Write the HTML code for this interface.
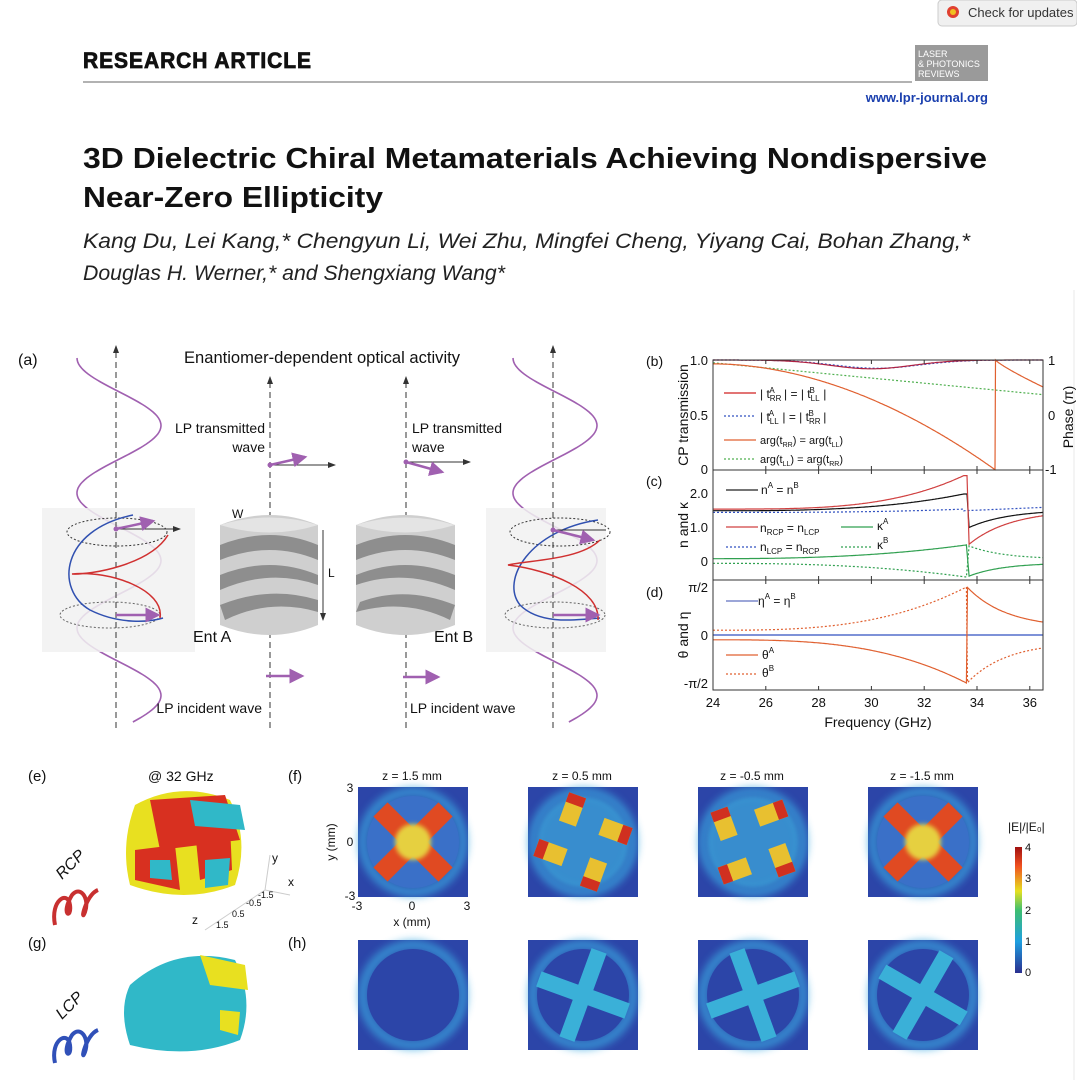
<!DOCTYPE html>
<html><head><meta charset="utf-8"><style>
html,body{margin:0;padding:0;background:#fff}
svg{display:block}
text{font-family:"Liberation Sans",Arial,sans-serif}
</style></head><body>
<svg id="s" width="1077" height="1080" viewBox="0 0 1077 1080" xmlns="http://www.w3.org/2000/svg">
<defs>
<filter id="bl" x="-20%" y="-20%" width="140%" height="140%"><feGaussianBlur stdDeviation="4"/></filter>
<filter id="bl2"><feGaussianBlur stdDeviation="2"/></filter>
<linearGradient id="cb" x1="0" y1="1" x2="0" y2="0">
<stop offset="0" stop-color="#2a2f8f"/><stop offset="0.25" stop-color="#1e9fe0"/><stop offset="0.5" stop-color="#3fbf6f"/><stop offset="0.65" stop-color="#e6e020"/><stop offset="0.85" stop-color="#f05020"/><stop offset="1" stop-color="#a01010"/>
</linearGradient>
<marker id="ah" markerWidth="8" markerHeight="8" refX="7" refY="4" orient="auto"><path d="M0,1 L8,4 L0,7 z" fill="#333"/></marker>
<marker id="ap" markerWidth="6" markerHeight="6" refX="5" refY="3" orient="auto"><path d="M0,0 L6,3 L0,6 z" fill="#a060b0"/></marker>
</defs>

<!-- header -->
<rect x="938" y="0" width="139" height="26" rx="4" fill="#f0f0f0" stroke="#ccc"/>
<circle cx="953" cy="12" r="6" fill="#e04030"/><circle cx="953" cy="12" r="3" fill="#f0c020"/>
<text x="968" y="17" font-size="13" fill="#333">Check for updates</text>
<text x="83" y="68" font-size="22" font-weight="bold" fill="#111" stroke="#111" stroke-width="0.8" textLength="229" lengthAdjust="spacingAndGlyphs" style="letter-spacing:1px">RESEARCH ARTICLE</text>
<line x1="83" y1="82" x2="912" y2="82" stroke="#999" stroke-width="1.5"/>
<rect x="915" y="45" width="73" height="36" fill="#9a9a9a"/>
<text x="918" y="57" font-size="9" fill="#fff">LASER</text>
<text x="918" y="67" font-size="9" fill="#fff">&amp; PHOTONICS</text>
<text x="918" y="77" font-size="9" fill="#fff">REVIEWS</text>
<text x="988" y="102" font-size="13" font-weight="bold" fill="#1a3fae" text-anchor="end">www.lpr-journal.org</text>
<text x="83" y="168" font-size="29" font-weight="bold" fill="#111" textLength="904" lengthAdjust="spacingAndGlyphs">3D Dielectric Chiral Metamaterials Achieving Nondispersive</text>
<text x="83" y="207" font-size="29" font-weight="bold" fill="#111" textLength="300" lengthAdjust="spacingAndGlyphs">Near-Zero Ellipticity</text>
<text x="83" y="248" font-size="21" font-style="italic" fill="#222" textLength="887" lengthAdjust="spacingAndGlyphs">Kang Du, Lei Kang,* Chengyun Li, Wei Zhu, Mingfei Cheng, Yiyang Cai, Bohan Zhang,*</text>
<text x="83" y="280" font-size="21" font-style="italic" fill="#222" textLength="422" lengthAdjust="spacingAndGlyphs">Douglas H. Werner,* and Shengxiang Wang*</text>
<line x1="1074" y1="290" x2="1074" y2="1080" stroke="#e8e8e8"/>

<!-- panel a -->
<text x="18" y="365" font-size="16" fill="#111">(a)</text>
<text x="184" y="363" font-size="17" fill="#111" textLength="276" lengthAdjust="spacingAndGlyphs">Enantiomer-dependent optical activity</text>
<path id="pw1" fill="none" stroke="#a060b0" stroke-width="1.6"/>
<path id="pw2" fill="none" stroke="#a060b0" stroke-width="1.6"/>
<rect x="42" y="508" width="153" height="144" fill="#f1f1f1" opacity="0.85"/>
<rect x="486" y="508" width="120" height="144" fill="#f1f1f1" opacity="0.85"/>
<g stroke="#333" stroke-width="1" stroke-dasharray="6,4" fill="none">
<line x1="116" y1="728" x2="116" y2="346" marker-end="url(#ah)"/>
<line x1="270" y1="728" x2="270" y2="377" marker-end="url(#ah)"/>
<line x1="406" y1="728" x2="406" y2="377" marker-end="url(#ah)"/>
<line x1="553" y1="728" x2="553" y2="346" marker-end="url(#ah)"/>
</g>
<g fill="none" stroke="#333" stroke-dasharray="2,2">
<ellipse cx="117" cy="532" rx="50" ry="14"/><ellipse cx="110" cy="615" rx="50" ry="13" stroke="#666"/>
<ellipse cx="560" cy="532" rx="50" ry="14"/><ellipse cx="555" cy="615" rx="50" ry="13" stroke="#666"/>
</g>
<path d="M133,515 C60,530 55,590 90,610 C120,625 150,622 163,618" fill="none" stroke="#3050b0" stroke-width="1.5"/>
<path d="M168,535 C150,565 90,575 72,574 C110,570 165,590 160,618" fill="none" stroke="#d03030" stroke-width="1.5"/>
<path d="M598,520 C530,530 500,580 520,605 C540,625 575,620 600,618" fill="none" stroke="#3050b0" stroke-width="1.5"/>
<path d="M600,540 C580,560 530,560 508,565 C550,570 600,590 598,620" fill="none" stroke="#d03030" stroke-width="1.5"/>
<g stroke="#333" fill="none"><line x1="116" y1="529" x2="180" y2="529" marker-end="url(#ah)"/><line x1="270" y1="465" x2="335" y2="465" marker-end="url(#ah)"/><line x1="406" y1="462" x2="470" y2="462" marker-end="url(#ah)"/><line x1="553" y1="530" x2="606" y2="530"/></g>
<g stroke="#a060b0" stroke-width="2.5" fill="none">
<line x1="116" y1="529" x2="153" y2="521" marker-end="url(#ap)"/><line x1="270" y1="465" x2="305" y2="457" marker-end="url(#ap)"/>
<line x1="406" y1="462" x2="442" y2="472" marker-end="url(#ap)"/><line x1="553" y1="530" x2="593" y2="540" marker-end="url(#ap)"/>
<line x1="116" y1="615" x2="158" y2="615" marker-end="url(#ap)"/><line x1="553" y1="615" x2="598" y2="615" marker-end="url(#ap)"/>
<line x1="266" y1="676" x2="302" y2="676" marker-end="url(#ap)"/><line x1="403" y1="677" x2="438" y2="677" marker-end="url(#ap)"/>
</g>
<g fill="#a060b0"><circle cx="116" cy="529" r="2.5"/><circle cx="270" cy="465" r="2.5"/><circle cx="406" cy="462" r="2.5"/><circle cx="553" cy="530" r="2.5"/></g>
<g font-size="14" fill="#111">
<text x="265" y="433" text-anchor="end">LP transmitted</text><text x="265" y="452" text-anchor="end">wave</text>
<text x="412" y="433">LP transmitted</text><text x="412" y="452">wave</text>
<text x="262" y="713" text-anchor="end">LP incident wave</text><text x="410" y="713">LP incident wave</text>
<text x="193" y="642" font-size="16">Ent A</text><text x="434" y="642" font-size="16">Ent B</text>
<text x="232" y="518" font-size="12">W</text><text x="286" y="530" font-size="12">R</text><text x="328" y="577" font-size="12">L</text>
</g>
<line x1="323" y1="530" x2="323" y2="620" stroke="#333" marker-end="url(#ah)"/>
<g>
<path d="M220,525 Q270,505 318,525 L318,625 Q270,645 220,625 z" fill="#cfcfcf"/>
<path d="M220,545 Q270,525 318,545 L318,560 Q270,540 220,560z M220,575 Q270,555 318,575 L318,585 Q270,568 220,590z M220,605 Q270,585 318,600 L318,612 Q270,598 225,620z" fill="#8e8e8e"/>
<path d="M220,525 Q270,510 318,525 Q270,540 220,525z" fill="#e4e4e4"/>
<path d="M356,525 Q405,505 455,525 L455,625 Q405,645 356,625 z" fill="#cfcfcf"/>
<path d="M356,545 Q405,525 455,545 L455,560 Q405,540 356,560z M356,575 Q405,555 455,575 L455,590 Q405,568 356,585z M360,602 Q405,585 455,605 L450,620 Q405,598 356,612z" fill="#8e8e8e"/>
<path d="M356,525 Q405,510 455,525 Q405,540 356,525z" fill="#e4e4e4"/>
</g>

<!-- panels b,c,d -->
<g id="plots"></g>
<g font-size="14" fill="#111">
<text x="646" y="366">(b)</text><text x="646" y="486">(c)</text><text x="646" y="597">(d)</text>
</g>
<g font-size="13" fill="#111" text-anchor="end">
<text x="708" y="365">1.0</text><text x="708" y="420">0.5</text><text x="708" y="474">0</text>
<text x="708" y="498">2.0</text><text x="708" y="532">1.0</text><text x="708" y="566">0</text>
<text x="708" y="592">π/2</text><text x="708" y="640">0</text><text x="708" y="688">-π/2</text>
</g>
<g font-size="13" fill="#111"><text x="1048" y="365">1</text><text x="1048" y="420">0</text><text x="1045" y="474">-1</text></g>
<g font-size="14" fill="#111" text-anchor="middle">
<text transform="translate(688,415) rotate(-90)">CP transmission</text>
<text transform="translate(688,525) rotate(-90)">n and κ</text>
<text transform="translate(688,635) rotate(-90)">θ and η</text>
<text transform="translate(1073,417) rotate(-90)">Phase (π)</text>
<text x="878" y="727">Frequency (GHz)</text>
</g>
<g font-size="13" fill="#111" text-anchor="middle" id="xt"></g>
<g font-size="12" fill="#111">
<text x="760" y="398">| t<tspan font-size="8" dy="3">RR</tspan><tspan font-size="8" dy="-8" dx="-12">A</tspan><tspan dy="5" dx="6"> | = | t</tspan><tspan font-size="8" dy="3">LL</tspan><tspan font-size="8" dy="-8" dx="-10">B</tspan><tspan dy="5" dx="5"> |</tspan></text>
<text x="760" y="421">| t<tspan font-size="8" dy="3">LL</tspan><tspan font-size="8" dy="-8" dx="-10">A</tspan><tspan dy="5" dx="5"> | = | t</tspan><tspan font-size="8" dy="3">RR</tspan><tspan font-size="8" dy="-8" dx="-12">B</tspan><tspan dy="5" dx="6"> |</tspan></text>
<text x="760" y="444" font-size="11">arg(t<tspan font-size="7" dy="3">RR</tspan><tspan dy="-3">) = arg(t</tspan><tspan font-size="7" dy="3">LL</tspan><tspan dy="-3">)</tspan></text>
<text x="760" y="463" font-size="11">arg(t<tspan font-size="7" dy="3">LL</tspan><tspan dy="-3">) = arg(t</tspan><tspan font-size="7" dy="3">RR</tspan><tspan dy="-3">)</tspan></text>
<text x="761" y="494">n<tspan font-size="8" dy="-6">A</tspan><tspan dy="6"> = n</tspan><tspan font-size="8" dy="-6">B</tspan></text>
<text x="760" y="532">n<tspan font-size="8" dy="3">RCP</tspan><tspan dy="-3"> = n</tspan><tspan font-size="8" dy="3">LCP</tspan></text>
<text x="760" y="551">n<tspan font-size="8" dy="3">LCP</tspan><tspan dy="-3"> = n</tspan><tspan font-size="8" dy="3">RCP</tspan></text>
<text x="877" y="530">κ<tspan font-size="8" dy="-6">A</tspan></text>
<text x="877" y="549">κ<tspan font-size="8" dy="-6">B</tspan></text>
<text x="758" y="605">η<tspan font-size="8" dy="-6">A</tspan><tspan dy="6"> = η</tspan><tspan font-size="8" dy="-6">B</tspan></text>
<text x="762" y="659">θ<tspan font-size="8" dy="-6">A</tspan></text>
<text x="762" y="677">θ<tspan font-size="8" dy="-6">B</tspan></text>
</g>
<g stroke-width="1.3" fill="none">
<line x1="724" y1="393" x2="756" y2="393" stroke="#d02020"/>
<line x1="724" y1="416" x2="756" y2="416" stroke="#3050c0" stroke-dasharray="2,2"/>
<line x1="724" y1="440" x2="756" y2="440" stroke="#e06030"/>
<line x1="724" y1="459" x2="756" y2="459" stroke="#50b050" stroke-dasharray="2,2"/>
<line x1="726" y1="490" x2="758" y2="490" stroke="#222"/>
<line x1="726" y1="527" x2="758" y2="527" stroke="#d04040"/>
<line x1="726" y1="547" x2="758" y2="547" stroke="#3050c0" stroke-dasharray="2,2"/>
<line x1="841" y1="527" x2="873" y2="527" stroke="#30a050"/>
<line x1="841" y1="547" x2="873" y2="547" stroke="#30a050" stroke-dasharray="2,2"/>
<line x1="726" y1="601" x2="758" y2="601" stroke="#6070c0"/>
<line x1="726" y1="655" x2="758" y2="655" stroke="#e06030"/>
<line x1="726" y1="674" x2="758" y2="674" stroke="#e06030" stroke-dasharray="2,2"/>
</g>

<!-- panels e-h -->
<g font-size="15" fill="#111">
<text x="28" y="781">(e)</text><text x="28" y="948">(g)</text><text x="288" y="781">(f)</text><text x="288" y="948">(h)</text>
<text x="148" y="781" font-size="14">@ 32 GHz</text>
</g>
<g font-size="12" fill="#111" text-anchor="middle">
<text x="412" y="780">z = 1.5 mm</text><text x="582" y="780">z = 0.5 mm</text><text x="752" y="780">z = -0.5 mm</text><text x="922" y="780">z = -1.5 mm</text>
<text x="350" y="792">3</text><text x="350" y="846">0</text><text x="350" y="900">-3</text>
<text x="357" y="910">-3</text><text x="412" y="910">0</text><text x="467" y="910">3</text>
<text x="412" y="926">x (mm)</text>
<text transform="translate(335,842) rotate(-90)">y (mm)</text>
</g>
<g id="maps"></g>
<rect x="1015" y="847" width="7" height="126" fill="url(#cb)"/>
<g font-size="11" fill="#111"><text x="1025" y="851">4</text><text x="1025" y="882">3</text><text x="1025" y="914">2</text><text x="1025" y="945">1</text><text x="1025" y="976">0</text>
<text x="1008" y="831" font-size="12">|E|/|E₀|</text></g>
<g>
<path d="M135,805 Q180,780 230,800 Q250,840 235,885 Q185,905 130,885 Q120,845 135,805z" fill="#e8e020"/>
<path d="M150,800 L225,795 L240,840 L160,850z M135,850 L175,845 L180,890 L135,880z M195,830 L230,825 L232,870 L200,880z" fill="#d83020"/>
<path d="M190,800 L240,805 L245,830 L195,826z M150,860 L170,860 L172,880 L150,878z M205,860 L230,858 L228,885 L205,888z" fill="#30b8c8"/>
<path d="M130,985 Q175,945 235,960 Q255,1000 240,1040 Q190,1060 130,1045 Q118,1010 130,985z" fill="#30b8c8"/>
<path d="M200,955 L245,965 L248,990 L210,985z M220,1010 L240,1012 L238,1035 L220,1030z" fill="#e8e020"/>
</g>
<g stroke="#ccc" fill="none"><line x1="265" y1="890" x2="270" y2="855"/><line x1="265" y1="890" x2="290" y2="895"/><line x1="265" y1="890" x2="205" y2="930"/></g>
<g font-size="12" fill="#111"><text x="272" y="862">y</text><text x="288" y="886">x</text><text x="192" y="924">z</text><text x="216" y="928" font-size="9">1.5</text><text x="232" y="917" font-size="9">0.5</text><text x="246" y="906" font-size="9">-0.5</text><text x="258" y="898" font-size="9">-1.5</text></g>
<text transform="translate(62,880) rotate(-45)" font-size="16" font-style="italic" fill="#111">RCP</text>
<text transform="translate(62,1020) rotate(-45)" font-size="16" font-style="italic" fill="#111">LCP</text>
<path d="M55,925 C50,900 68,890 70,905 C72,920 60,915 72,895 C80,885 90,898 85,912 C80,925 85,895 98,890" fill="none" stroke="#c83030" stroke-width="4"/>
<path d="M55,1063 C50,1040 68,1030 70,1045 C72,1060 60,1055 72,1035 C80,1025 90,1038 85,1052 C80,1065 85,1035 98,1030" fill="none" stroke="#3050b8" stroke-width="4"/>
</svg>
<script>
var NS="http://www.w3.org/2000/svg";
function el(p,t,a){var e=document.createElementNS(NS,t);for(var k in a)e.setAttribute(k,a[k]);p.appendChild(e);return e;}
var X=function(f){return 713+(f-24)*26.4;};
var G=document.getElementById("plots");
function path(fn,yf,f0,f1,st,dash){var d="";for(var f=f0;f<=f1+1e-9;f+=0.05){var v=fn(f);d+=(d?"L":"M")+X(f).toFixed(1)+","+yf(v).toFixed(1);}
var a={d:d,fill:"none",stroke:st,"stroke-width":1.2};if(dash)a["stroke-dasharray"]=dash;el(G,"path",a);}
function seg(parts,yf,st,dash){var d="";parts.forEach(function(p){for(var f=p[0];f<=p[1]+1e-9;f+=0.04){d+=(d?"L":"M")+X(f).toFixed(1)+","+yf(p[2](f)).toFixed(1);}});
var a={d:d,fill:"none",stroke:st,"stroke-width":1.2};if(dash)a["stroke-dasharray"]=dash;el(G,"path",a);}
var yL=function(v){return 470-110*v;},yR=function(p){return 415-55*p;},yC=function(v){return 561-33.5*v;},yD=function(t){return 635-48*t;};
function sat(f,f0,f1,tau){return (1-Math.exp(-(f-f0)/tau))/(1-Math.exp(-(f1-f0)/tau));}
path(function(f){return 1-0.075*Math.exp(-Math.pow((f-30.2)/2.3,2));},yL,24,36.5,"#3050c0","2,2");
path(function(f){return 1-0.08*Math.exp(-Math.pow((f-30)/2.2,2));},yL,24,36.5,"#b02040");
path(function(f){return 0.95-0.58*(f-24)/12.5;},yR,24,36.5,"#50b050","2,2");
seg([[24,34.7,function(f){return 0.93-1.93*Math.pow((f-24)/10.7,1.9);}],[34.7,36.5,function(f){return 1-0.49*Math.pow((f-34.7)/1.8,0.85);}]],yR,"#e06030");
function sh(a,b,p){return function(f){return a+b*Math.pow((f-24)/9.5,p);};}
seg([[24,33.5,sh(1.45,0.1,3)],[33.5,36.5,function(f){return 1.5+0.1*(f-33.5)/3;}]],yC,"#3050c0","2,2");
seg([[24,33.5,sh(1.5,0.5,3)],[33.5,33.62,function(){return 2.0;}],[33.7,36.5,function(f){return 1.0+0.45*sat(f,33.7,36.5,1.5);}]],yC,"#111");
seg([[24,33.5,sh(1.55,1.0,3.5)],[33.5,33.62,function(){return 2.55;}],[33.7,36.5,function(f){return 0.5+0.85*sat(f,33.7,36.5,1.6);}]],yC,"#d04040");
var kA=function(f){return f<33.65?0.07+0.41*Math.pow((f-24)/9.6,2.5):-0.45+0.35*sat(f,33.7,36.5,1.3);};
seg([[24,33.62,kA],[33.7,36.5,kA]],yC,"#30a050");
seg([[24,33.62,function(f){return -kA(f);}],[33.7,36.5,function(f){return -kA(f);}]],yC,"#30a050","2,2");
el(G,"line",{x1:713,y1:635,x2:1043,y2:635,stroke:"#3050c0","stroke-width":1.3});
var tA=function(f){return f<33.62?-0.1-0.9*Math.pow((f-24)/9.6,3):1-0.73*sat(f,33.62,36.5,1.5);};
seg([[24,33.6,tA],[33.64,36.5,tA]],yD,"#e06030");
seg([[24,33.6,function(f){return -tA(f);}],[33.64,36.5,function(f){return -tA(f);}]],yD,"#e06030","2,2");
[[360,470],[470,580],[580,690]].forEach(function(r){el(G,"rect",{x:713,y:r[0],width:330,height:r[1]-r[0],fill:"none",stroke:"#333","stroke-width":1});
for(var f=24;f<=36;f+=2){el(G,"line",{x1:X(f),y1:r[0],x2:X(f),y2:r[0]+4,stroke:"#333"});el(G,"line",{x1:X(f),y1:r[1],x2:X(f),y2:r[1]-4,stroke:"#333"});}});
var xt=document.getElementById("xt");for(var f=24;f<=36;f+=2){var t=el(xt,"text",{x:X(f),y:707});t.textContent=f;}
function wave(id,cx,amp){var d="";for(var y=358;y<=722;y+=2){var x=cx-amp*Math.cos((y-358)/135*Math.PI*2);d+=(d?"L":"M")+x.toFixed(1)+","+y;}document.getElementById(id).setAttribute("d",d);}
wave("pw1",119,42);wave("pw2",555,42);
var M=document.getElementById("maps");
var cols=[358,528,698,868];
function mapbox(x,y,type,k,ang){var g=el(M,"g",{});
el(g,"rect",{x:x,y:y,width:110,height:110,fill:"#2c45a8"});
var cx=x+55,cy=y+55;
el(g,"circle",{cx:cx,cy:cy,r:50,fill:"none",stroke:"#3aa8e0","stroke-width":10,opacity:0.7,filter:"url(#bl)"});
if(type=="f"){
 if(k==0||k==3){el(g,"circle",{cx:cx,cy:cy,r:46,fill:"#3a70c8"});
  var gg=el(g,"g",{transform:"rotate("+ang+" "+cx+" "+cy+")"});
  el(gg,"rect",{x:cx-46,y:cy-10,width:92,height:20,fill:"#e04a22"});el(gg,"rect",{x:cx-10,y:cy-46,width:20,height:92,fill:"#e04a22"});
  el(gg,"circle",{cx:cx,cy:cy,r:18,fill:"#e6d040",filter:"url(#bl2)"});
 } else {el(g,"circle",{cx:cx,cy:cy,r:46,fill:"#3aa0d8",opacity:0.8,filter:"url(#bl2)"});
  var gg=el(g,"g",{transform:"rotate("+ang+" "+cx+" "+cy+")"});
  for(var i=0;i<4;i++){var g2=el(gg,"g",{transform:"rotate("+(i*90)+" "+cx+" "+cy+")"});el(g2,"rect",{x:cx+12,y:cy-30,width:30,height:18,fill:"#e8c030"});el(g2,"rect",{x:cx+32,y:cy-30,width:10,height:18,fill:"#d03020"});}
 }
}else{
 el(g,"circle",{cx:cx,cy:cy,r:46,fill:"#2c45a8"});
 if(k>0){var gg=el(g,"g",{transform:"rotate("+ang+" "+cx+" "+cy+")"});
  el(gg,"rect",{x:cx-47,y:cy-8,width:94,height:16,fill:"#3ab0d8"});el(gg,"rect",{x:cx-8,y:cy-47,width:16,height:94,fill:"#3ab0d8"});}
}}
var angF=[-45,20,-20,45],angH=[0,20,-20,30];
cols.forEach(function(x,k){mapbox(x,787,"f",k,angF[k]);mapbox(x,940,"h",k,angH[k]);});
</script>
</body></html>
